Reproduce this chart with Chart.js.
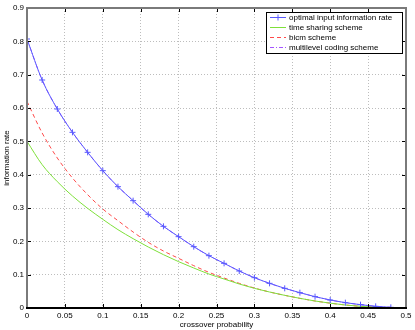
<!DOCTYPE html>
<html>
<head>
<meta charset="utf-8">
<script src="https://cdn.jsdelivr.net/npm/chart.js@4.4.1/dist/chart.umd.min.js"></script>
<style>
    html, body { margin: 0; padding: 0; background: #fff; }
    #box { width: 415px; height: 330px; }
</style>
</head>
<body>
<div id="box"><canvas id="myChart" width="415" height="330"></canvas></div>
<script>
// values
const crossover = [0, 0.02, 0.04, 0.06, 0.08, 0.10, 0.12, 0.14, 0.16, 0.18, 0.20, 0.22, 0.24,
    0.26, 0.28, 0.30, 0.32, 0.34, 0.36, 0.38, 0.40, 0.42, 0.44, 0.46, 0.48];
const optimalRate = [0.807, 0.684, 0.597, 0.527, 0.467, 0.412, 0.364, 0.322, 0.281, 0.245, 0.214, 0.184, 0.157,
    0.134, 0.111, 0.091, 0.074, 0.059, 0.046, 0.034, 0.024, 0.016, 0.010, 0.005, 0.002];
const timeSharing = [0.500, 0.430, 0.379, 0.336, 0.299, 0.266, 0.235, 0.208, 0.183, 0.160, 0.139, 0.120, 0.102,
    0.087, 0.072, 0.059, 0.048, 0.038, 0.029, 0.021, 0.0145, 0.009, 0.005, 0.0023, 0.0006];
const bicm = [0.620, 0.525, 0.450, 0.390, 0.340, 0.297, 0.262, 0.228, 0.197, 0.171, 0.149, 0.127, 0.107,
    0.090, 0.074, 0.060, 0.048, 0.038, 0.029, 0.021, 0.0145, 0.009, 0.005, 0.0023, 0.0006];
const multilevel = optimalRate.slice();

const xTicks = [0, 0.05, 0.1, 0.15, 0.2, 0.25, 0.3, 0.35, 0.4, 0.45, 0.5];
const yTicks = [0, 0.1, 0.2, 0.3, 0.4, 0.5, 0.6, 0.7, 0.8, 0.9];
const seriesNames = ['optimal input information rate', 'time sharing scheme', 'bicm scheme', 'multilevel coding scheme'];

const toPoints = (ys) => crossover.map((x, i) => ({ x: x, y: ys[i] }));
const FONT = '"Liberation Sans", Arial, Helvetica, sans-serif';

// legend box + matlab style frame with inward ticks
const matlabFrame = {
    id: 'matlabFrame',
    afterDraw(chart) {
        const ctx = chart.ctx;
        const a = chart.chartArea;
        const xs = chart.scales.x;
        const ys = chart.scales.y;
        ctx.save();
        ctx.strokeStyle = '#000';
        ctx.lineWidth = 1;
        ctx.beginPath();
        xTicks.forEach(t => {
            const px = Math.round(xs.getPixelForValue(t)) + 0.5;
            ctx.moveTo(px, a.bottom); ctx.lineTo(px, a.bottom - 4);
            ctx.moveTo(px, a.top); ctx.lineTo(px, a.top + 4);
        });
        yTicks.forEach(t => {
            const py = Math.round(ys.getPixelForValue(t)) + 0.5;
            ctx.moveTo(a.left, py); ctx.lineTo(a.left + 4, py);
            ctx.moveTo(a.right, py); ctx.lineTo(a.right - 4, py);
        });
        ctx.stroke();

        ctx.lineWidth = 2;
        ctx.strokeStyle = '#7a7a7a';
        ctx.beginPath();
        ctx.moveTo(a.left, a.bottom); ctx.lineTo(a.left, a.top);
        ctx.lineTo(a.right, a.top); ctx.lineTo(a.right, a.bottom);
        ctx.stroke();
        ctx.strokeStyle = '#000';
        ctx.beginPath();
        ctx.moveTo(a.left - 1, a.bottom); ctx.lineTo(a.right + 1, a.bottom);
        ctx.stroke();

        // legend
        const lx = 266, ly = 12, lw = 136, lh = 41;
        ctx.fillStyle = '#fff';
        ctx.fillRect(lx, ly, lw, lh);
        ctx.lineWidth = 1;
        ctx.strokeStyle = '#000';
        ctx.strokeRect(lx + 0.5, ly + 0.5, lw, lh);
        ctx.font = '8px ' + FONT;
        ctx.textBaseline = 'middle';
        ctx.textAlign = 'left';
        chart.data.datasets.forEach((ds, i) => {
            const y = ly + 5.5 + i * 10;
            ctx.strokeStyle = ds.borderColor;
            ctx.lineWidth = 1;
            ctx.setLineDash(ds.borderDash || []);
            ctx.beginPath();
            ctx.moveTo(270, y); ctx.lineTo(286, y);
            ctx.stroke();
            ctx.setLineDash([]);
            if (ds.pointRadius > 0) {
                ctx.beginPath();
                ctx.moveTo(278, y - 3); ctx.lineTo(278, y + 3);
                ctx.moveTo(275, y); ctx.lineTo(281, y);
                ctx.stroke();
            }
            ctx.fillStyle = '#000';
            ctx.fillText(ds.label, 289, y);
        });
        ctx.restore();
    }
};

const ctx = document.querySelector('#myChart');
const myChart = new Chart(ctx, {
    type: 'line',
    data: {
        datasets: [
            {
                label: seriesNames[0],
                data: toPoints(optimalRate),
                borderColor: '#5a5aff',
                borderWidth: 1,
                pointStyle: 'cross',
                pointRadius: 3,
                pointBorderColor: '#5a5aff',
                pointBorderWidth: 1,
            },
            {
                label: seriesNames[1],
                data: toPoints(timeSharing),
                borderColor: '#7ee03a',
                borderWidth: 1,
                pointRadius: 0,
            },
            {
                label: seriesNames[2],
                data: toPoints(bicm),
                borderColor: '#ff4a4a',
                borderWidth: 1,
                borderDash: [4, 3],
                pointRadius: 0,
            },
            {
                label: seriesNames[3],
                data: toPoints(multilevel),
                borderColor: '#a455ff',
                borderWidth: 1,
                borderDash: [4, 2, 1, 2],
                pointRadius: 0,
            },
        ],
    },
    options: {
        responsive: false,
        animation: false,
        layout: { padding: { top: 8, right: 9, left: 0, bottom: 0 } },
        elements: { line: { tension: 0.3, cubicInterpolationMode: 'monotone' } },
        plugins: {
            legend: { display: false },
            tooltip: { enabled: false },
        },
        scales: {
            x: {
                type: 'linear',
                min: 0,
                max: 0.5,
                afterBuildTicks: (scale) => { scale.ticks = xTicks.map(v => ({ value: v })); },
                afterFit: (scale) => { scale.height = 22; },
                grid: {
                    color: (c) => (c.tick && (c.tick.value === 0 || c.tick.value === 0.5)) ? 'rgba(0,0,0,0)' : '#bdbdbd',
                    drawTicks: false,
                    lineWidth: 1,
                },
                border: { display: false, dash: [1, 2] },
                ticks: {
                    color: '#000',
                    font: { size: 8, family: FONT },
                    padding: 3,
                    maxRotation: 0,
                    callback: (v) => String(v),
                },
                title: {
                    display: true,
                    text: 'crossover probability',
                    color: '#000',
                    font: { size: 8, family: FONT },
                    padding: 0,
                },
            },
            y: {
                type: 'linear',
                min: 0,
                max: 0.9,
                afterBuildTicks: (scale) => { scale.ticks = yTicks.map(v => ({ value: v })); },
                afterFit: (scale) => { scale.width = 27; },
                grid: {
                    color: (c) => (c.tick && (c.tick.value === 0 || c.tick.value === 0.9)) ? 'rgba(0,0,0,0)' : '#bdbdbd',
                    drawTicks: false,
                    lineWidth: 1,
                },
                border: { display: false, dash: [1, 2] },
                ticks: {
                    color: '#000',
                    font: { size: 8, family: FONT },
                    padding: 3,
                    callback: (v) => String(Math.round(v * 10) / 10),
                },
                title: {
                    display: true,
                    text: 'information rate',
                    color: '#000',
                    font: { size: 8, family: FONT },
                    padding: { top: 2, bottom: 0 },
                },
            },
        },
    },
    plugins: [matlabFrame],
});
</script>
</body>
</html>
